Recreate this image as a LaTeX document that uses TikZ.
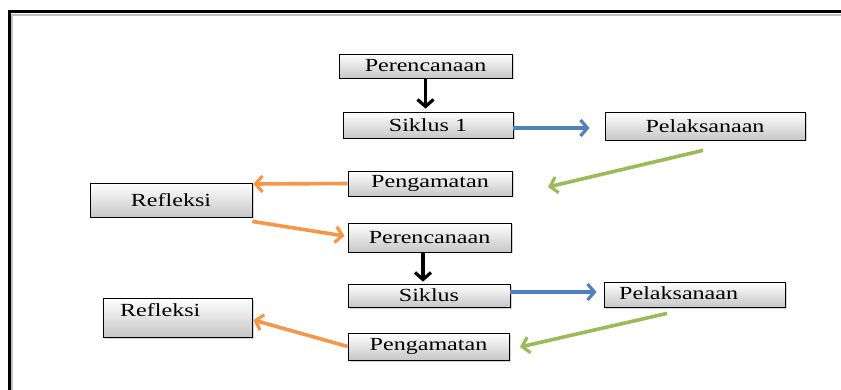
\documentclass[tikz,border=0pt]{standalone}
\usepackage{fontspec}
\setmainfont{Liberation Serif}[FakeStretch=1.3]
\usetikzlibrary{arrows.meta,shadows}
\definecolor{ablue}{RGB}{79,129,189}
\definecolor{agreen}{RGB}{155,187,89}
\definecolor{aorange}{RGB}{247,150,70}
\tikzset{
  lbl/.style={font=\fontsize{18.5}{20}\selectfont},
  box/.style={lbl, draw=black, line width=0.8pt, top color=white, bottom color=black!22,
    drop shadow={shadow xshift=1.5pt, shadow yshift=-1.5pt, opacity=0.35},
    inner sep=0pt},
  arr/.style={line width=3.6pt, -{Straight Barb[length=7pt,width=16pt,line width=3.2pt]}},
  darr/.style={arr, black},
  barr/.style={arr, ablue},
  garr/.style={arr, agreen},
  oarr/.style={arr, aorange},
}
\begin{document}
\begin{tikzpicture}[x=1pt,y=-1pt]
\useasboundingbox (0,0) rectangle (841,390);
% frame
\draw[black!25, line width=2pt] (12,391) -- (12,15) -- (841,15);
\draw[black, line width=3pt] (9.5,391) -- (9.5,12) -- (841,12);

% boxes
\node[box, minimum width=173pt, minimum height=24pt] (p1) at (425.5,66) {Perencanaan};
\node[box, minimum width=170pt, minimum height=26pt] (s1) at (428,125) {Siklus 1};
\node[box, minimum width=200pt, minimum height=28pt] (l1) at (705,126) {Pelaksanaan};
\node[box, minimum width=164pt, minimum height=25pt] (g1) at (430,183.5) {Pengamatan};
\node[box, minimum width=162pt, minimum height=34pt] (r1) at (171,200) {Refleksi};
\node[box, minimum width=163pt, minimum height=29pt] (p2) at (429.5,237.5) {Perencanaan};
\node[box, minimum width=162pt, minimum height=23pt] (s2) at (429,295.5) {Siklus};
\node[box, minimum width=181pt, minimum height=25pt] (l2) at (694.5,294.5) {};
\node[lbl, anchor=west, inner sep=0pt] (l2t) at (619,293) {Pelaksanaan};
\node[box, minimum width=161pt, minimum height=27pt] (g2) at (428.5,346.5) {Pengamatan};
\node[box, minimum width=149pt, minimum height=39pt] (r2) at (177.5,317.5) {};
\node[lbl, anchor=west, inner sep=0pt] (r2t) at (120,310) {Refleksi};

\coordinate (g1in) at (548,187);
\coordinate (g2in) at (520,347);

% connectors
\draw[darr, shorten <=1pt, shorten >=3pt] (p1.south) -- (p1.south |- s1.north);
\draw[darr, shorten >=2pt] ([xshift=-6.5pt]p2.south) -- ([xshift=-6.5pt]p2.south |- s2.north);
\draw[barr] ([yshift=-3pt]s1.east) -- ([xshift=-15pt,yshift=-2pt]l1.west);
\draw[barr] ([yshift=3.5pt]s2.east) -- ([xshift=-7pt,yshift=2.5pt]l2.west);
\draw[garr] ([xshift=-2pt,yshift=-10pt]l1.south) -- (g1in);
\draw[garr] ([xshift=-27.5pt,yshift=-6pt]l2.south) -- (g2in);
\draw[oarr] (g1.west) -- ([xshift=1pt,yshift=16pt]r1.east);
\draw[oarr] ([yshift=-4pt]r1.south east) -- ([xshift=-3pt,yshift=1.5pt]p2.west);
\draw[oarr] (g2.west) -- ([xshift=1pt,yshift=-2.5pt]r2.east);
\end{tikzpicture}
\end{document}
